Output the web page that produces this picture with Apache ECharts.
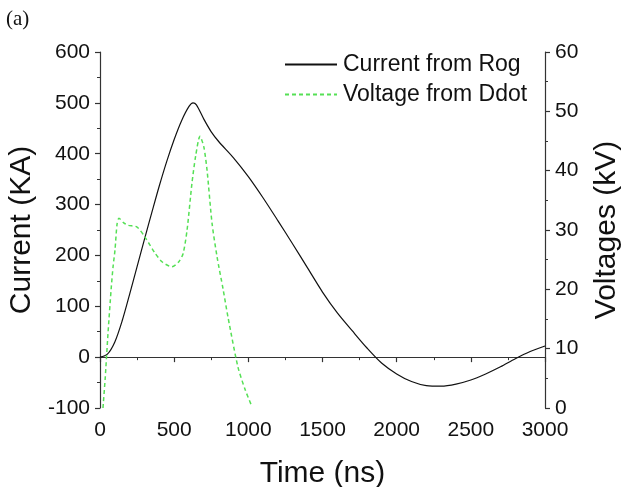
<!DOCTYPE html>
<html>
<head>
<meta charset="utf-8">
<script src="https://cdn.jsdelivr.net/npm/echarts@6/dist/echarts.min.js"></script>
<style>html,body{margin:0;padding:0;background:#fff}#c{width:624px;height:487px}</style>
</head>
<body>
<div id="c"></div>
<script>
// Current from Rogowski coil: [time ns, current kA]
const currentRog = [
  [0, 0], [50, 6], [100, 30], [150, 72], [200, 124], [250, 178], [300, 232], [350, 285],
  [400, 337], [450, 385], [500, 428], [550, 465], [600, 493], [627, 500], [650, 496],
  [700, 468], [750, 443], [800, 424], [900, 392], [1000, 355], [1100, 313], [1200, 268],
  [1300, 222], [1400, 175], [1500, 128], [1600, 87], [1700, 52], [1800, 18], [1900, -12],
  [2000, -33], [2100, -48], [2200, -56], [2300, -57], [2400, -53], [2500, -45], [2600, -33],
  [2700, -19], [2800, -3], [2900, 11], [3000, 22]
];
// Voltage from D-dot: [time ns, voltage kV]
const voltageDdot = [
  [20, 0], [35, 5], [54, 12.6], [75, 20], [88, 23.8], [101, 26.6], [115, 31], [128, 32],
  [160, 31.2], [189, 30.8], [250, 30.5], [303, 28.8], [371, 26.1], [420, 24.6], [485, 23.8],
  [530, 24.6], [560, 26], [587, 30], [620, 37.9], [645, 42.5], [674, 45.8], [700, 44],
  [722, 40], [755, 31.2], [789, 25.5], [830, 20], [863, 15.3], [930, 6.9], [980, 3],
  [1025, 0.2]
];
const xTicks = [0, 500, 1000, 1500, 2000, 2500, 3000];
const leftTicks = [-100, 0, 100, 200, 300, 400, 500, 600];
const rightTicks = [0, 10, 20, 30, 40, 50, 60];

const font = 'Liberation Sans, Arial, sans-serif';
const axisCommon = {
  axisLine: {show: true, lineStyle: {color: '#333', width: 1.2}},
  axisTick: {show: true, inside: false, length: 5, lineStyle: {color: '#333', width: 1.2}},
  minorTick: {show: true, splitNumber: 2, length: 3, lineStyle: {color: '#333', width: 1}},
  splitLine: {show: false},
  axisLabel: {color: '#111', fontSize: 21, fontFamily: font, formatter: v => String(v)},
  nameTextStyle: {color: '#111', fontSize: 30, fontFamily: font}
};
const chart = echarts.init(document.getElementById('c'));
chart.setOption({
  animation: false,
  backgroundColor: '#fff',
  title: {text: '(a)', left: 1, top: 4, textStyle: {fontFamily: 'Liberation Serif, Times New Roman, serif', fontSize: 21, fontWeight: 'normal', color: '#111'}},
  grid: {left: 100, right: 79, top: 52, bottom: 79, containLabel: false, outerBoundsMode: 'none'},
  legend: {
    orient: 'vertical', left: 279, top: 48, itemWidth: 52, itemHeight: 14, itemGap: 7,
    itemStyle: {opacity: 0},
    textStyle: {fontSize: 23, fontFamily: font, color: '#111', padding: [0, 0, 0, 1]},
    data: ['Current from Rog', 'Voltage from Ddot']
  },
  xAxis: Object.assign({}, axisCommon, {
    type: 'value', min: xTicks[0], max: xTicks[xTicks.length - 1], interval: 500,
    name: 'Time (ns)', nameLocation: 'middle', nameGap: 51,
    axisLabel: Object.assign({}, axisCommon.axisLabel, {margin: 12})
  }),
  yAxis: [
    Object.assign({}, axisCommon, {
      type: 'value', min: leftTicks[0], max: leftTicks[leftTicks.length - 1], interval: 100,
      name: 'Current (KA)', nameLocation: 'middle', nameGap: 55, nameRotate: 90,
      axisLabel: Object.assign({}, axisCommon.axisLabel, {margin: 10})
    }),
    Object.assign({}, axisCommon, {
      type: 'value', position: 'right', min: rightTicks[0], max: rightTicks[rightTicks.length - 1], interval: 10,
      name: 'Voltages (kV)', nameLocation: 'middle', nameGap: 47, nameRotate: 90,
      axisLabel: Object.assign({}, axisCommon.axisLabel, {margin: 10})
    })
  ],
  series: [
    {name: 'Current from Rog', type: 'line', yAxisIndex: 0, data: currentRog, smooth: 0.3,
     symbol: 'none', lineStyle: {color: '#111', width: 1.2}, itemStyle: {color: '#111'}},
    {name: 'Voltage from Ddot', type: 'line', yAxisIndex: 1, data: voltageDdot, smooth: 0.25,
     symbol: 'none', lineStyle: {color: '#55e055', width: 1.5, type: [4, 3]}, itemStyle: {color: '#55e055'}}
  ]
});
</script>
</body>
</html>
